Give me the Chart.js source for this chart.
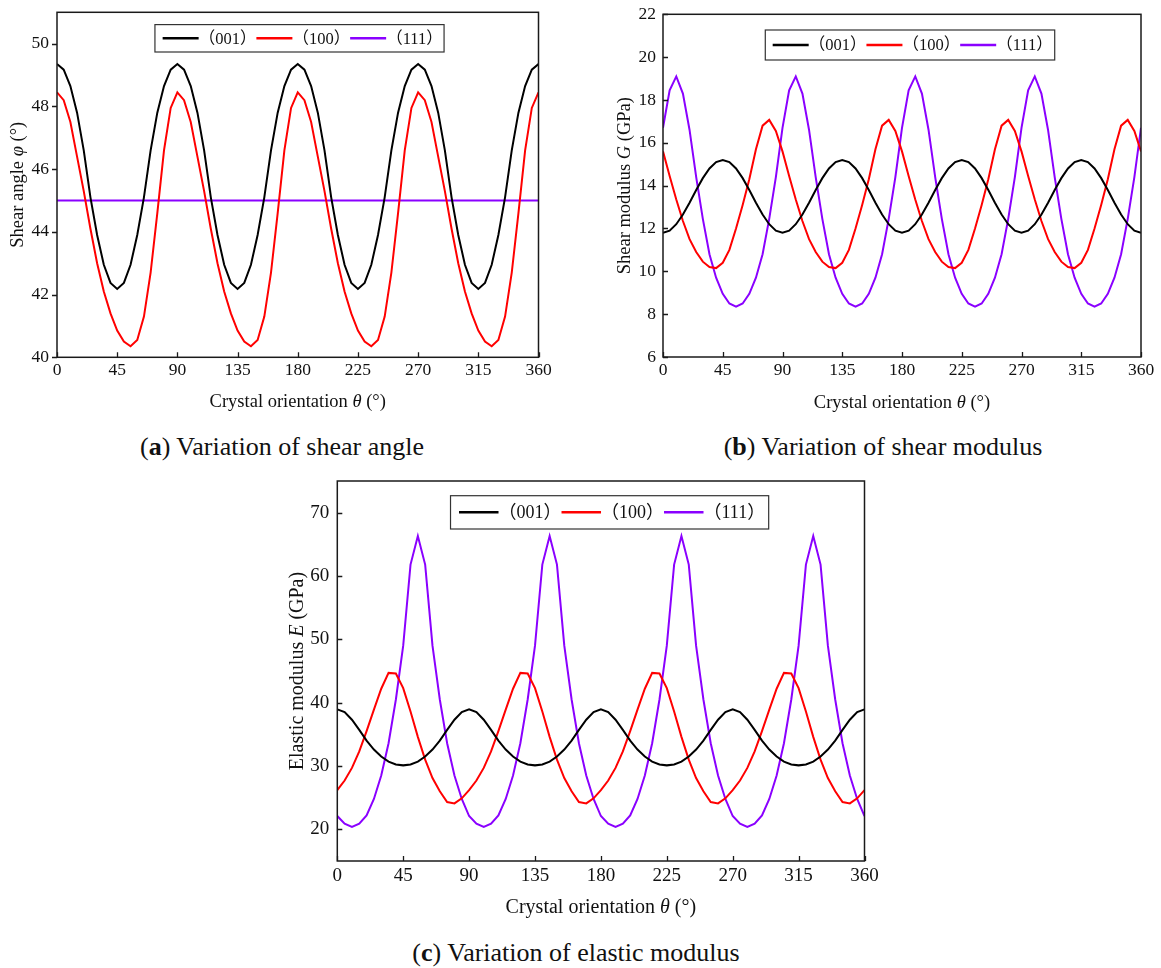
<!DOCTYPE html>
<html>
<head>
<meta charset="utf-8">
<script src="https://cdn.jsdelivr.net/npm/chart.js@4.4.1/dist/chart.umd.min.js"></script>
<style>
  html, body { margin: 0; padding: 0; background: #fff; }
  body { width: 1161px; height: 968px; position: relative; overflow: hidden; }
  canvas { position: absolute; }
  .cap { position: absolute; font-family: 'Liberation Serif', serif; font-size: 26px; color: #111;
         white-space: nowrap; transform: translate(-50%, -50%); line-height: 1; }
</style>
</head>
<body>
<canvas id="chartA" width="580" height="425" style="left:0px;top:0px"></canvas>
<canvas id="chartB" width="581" height="425" style="left:580px;top:0px"></canvas>
<canvas id="chartC" width="680" height="460" style="left:240px;top:470px"></canvas>
<div class="cap" style="left:282px;top:447px">(<b>a</b>) Variation of shear angle</div>
<div class="cap" style="left:883px;top:447px">(<b>b</b>) Variation of shear modulus</div>
<div class="cap" style="left:576px;top:953px">(<b>c</b>) Variation of elastic modulus</div>
<script>
// Crystal orientation theta (degrees), sampled every 5 degrees
const theta = [
  0, 5, 10, 15, 20, 25, 30, 35, 40, 45, 50, 55, 60, 65, 70, 75, 80, 85,
  90, 95, 100, 105, 110, 115, 120, 125, 130, 135, 140, 145, 150, 155, 160, 165, 170, 175,
  180, 185, 190, 195, 200, 205, 210, 215, 220, 225, 230, 235, 240, 245, 250, 255, 260, 265,
  270, 275, 280, 285, 290, 295, 300, 305, 310, 315, 320, 325, 330, 335, 340, 345, 350, 355,
  360
];

const seriesLabels = ['（001）', '（100）', '（111）'];
const xTicks = [0, 45, 90, 135, 180, 225, 270, 315, 360];

// (a) shear angle, degrees
const shearAngle001 = [
  49.35, 49.17, 48.65, 47.8, 46.6, 45.1, 43.9, 42.95, 42.37, 42.18, 42.37, 42.95, 43.9, 45.1, 46.6, 47.8, 48.65, 49.17,
  49.35, 49.17, 48.65, 47.8, 46.6, 45.1, 43.9, 42.95, 42.37, 42.18, 42.37, 42.95, 43.9, 45.1, 46.6, 47.8, 48.65, 49.17,
  49.35, 49.17, 48.65, 47.8, 46.6, 45.1, 43.9, 42.95, 42.37, 42.18, 42.37, 42.95, 43.9, 45.1, 46.6, 47.8, 48.65, 49.17,
  49.35, 49.17, 48.65, 47.8, 46.6, 45.1, 43.9, 42.95, 42.37, 42.18, 42.37, 42.95, 43.9, 45.1, 46.6, 47.8, 48.65, 49.17,
  49.35
];
const shearAngle100 = [
  48.45, 48.2, 47.5, 46.4, 45.3, 44.1, 43.0, 42.1, 41.4, 40.85, 40.5, 40.35, 40.55, 41.3, 42.7, 44.6, 46.6, 47.95,
  48.45, 48.2, 47.5, 46.4, 45.3, 44.1, 43.0, 42.1, 41.4, 40.85, 40.5, 40.35, 40.55, 41.3, 42.7, 44.6, 46.6, 47.95,
  48.45, 48.2, 47.5, 46.4, 45.3, 44.1, 43.0, 42.1, 41.4, 40.85, 40.5, 40.35, 40.55, 41.3, 42.7, 44.6, 46.6, 47.95,
  48.45, 48.2, 47.5, 46.4, 45.3, 44.1, 43.0, 42.1, 41.4, 40.85, 40.5, 40.35, 40.55, 41.3, 42.7, 44.6, 46.6, 47.95,
  48.45
];
const shearAngle111 = [
  45, 45, 45, 45, 45, 45, 45, 45, 45, 45, 45, 45, 45, 45, 45, 45, 45, 45,
  45, 45, 45, 45, 45, 45, 45, 45, 45, 45, 45, 45, 45, 45, 45, 45, 45, 45,
  45, 45, 45, 45, 45, 45, 45, 45, 45, 45, 45, 45, 45, 45, 45, 45, 45, 45,
  45, 45, 45, 45, 45, 45, 45, 45, 45, 45, 45, 45, 45, 45, 45, 45, 45, 45,
  45
];
const shearAngleTicks = [40, 42, 44, 46, 48, 50];

// (b) shear modulus G, GPa
const shearModulus001 = [
  11.8, 11.9, 12.2, 12.65, 13.2, 13.8, 14.35, 14.8, 15.1, 15.2, 15.1, 14.8, 14.35, 13.8, 13.2, 12.65, 12.2, 11.9,
  11.8, 11.9, 12.2, 12.65, 13.2, 13.8, 14.35, 14.8, 15.1, 15.2, 15.1, 14.8, 14.35, 13.8, 13.2, 12.65, 12.2, 11.9,
  11.8, 11.9, 12.2, 12.65, 13.2, 13.8, 14.35, 14.8, 15.1, 15.2, 15.1, 14.8, 14.35, 13.8, 13.2, 12.65, 12.2, 11.9,
  11.8, 11.9, 12.2, 12.65, 13.2, 13.8, 14.35, 14.8, 15.1, 15.2, 15.1, 14.8, 14.35, 13.8, 13.2, 12.65, 12.2, 11.9,
  11.8
];
const shearModulus100 = [
  15.6, 14.45, 13.35, 12.35, 11.5, 10.9, 10.45, 10.2, 10.15, 10.4, 11.0, 12.0, 13.1, 14.3, 15.7, 16.8, 17.07, 16.55,
  15.6, 14.45, 13.35, 12.35, 11.5, 10.9, 10.45, 10.2, 10.15, 10.4, 11.0, 12.0, 13.1, 14.3, 15.7, 16.8, 17.07, 16.55,
  15.6, 14.45, 13.35, 12.35, 11.5, 10.9, 10.45, 10.2, 10.15, 10.4, 11.0, 12.0, 13.1, 14.3, 15.7, 16.8, 17.07, 16.55,
  15.6, 14.45, 13.35, 12.35, 11.5, 10.9, 10.45, 10.2, 10.15, 10.4, 11.0, 12.0, 13.1, 14.3, 15.7, 16.8, 17.07, 16.55,
  15.6
];
const shearModulus111 = [
  16.7, 18.45, 19.1, 18.3, 16.6, 14.4, 12.45, 10.8, 9.7, 8.95, 8.5, 8.35, 8.5, 8.95, 9.7, 10.8, 12.45, 14.4,
  16.7, 18.45, 19.1, 18.3, 16.6, 14.4, 12.45, 10.8, 9.7, 8.95, 8.5, 8.35, 8.5, 8.95, 9.7, 10.8, 12.45, 14.4,
  16.7, 18.45, 19.1, 18.3, 16.6, 14.4, 12.45, 10.8, 9.7, 8.95, 8.5, 8.35, 8.5, 8.95, 9.7, 10.8, 12.45, 14.4,
  16.7, 18.45, 19.1, 18.3, 16.6, 14.4, 12.45, 10.8, 9.7, 8.95, 8.5, 8.35, 8.5, 8.95, 9.7, 10.8, 12.45, 14.4,
  16.7
];
const shearModulusTicks = [6, 8, 10, 12, 14, 16, 18, 20, 22];

// (c) elastic modulus E, GPa
const elasticModulus001 = [
  38.95, 38.5, 37.3, 35.7, 34.0, 32.6, 31.5, 30.7, 30.25, 30.1, 30.25, 30.7, 31.5, 32.6, 34.0, 35.7, 37.3, 38.5,
  38.95, 38.5, 37.3, 35.7, 34.0, 32.6, 31.5, 30.7, 30.25, 30.1, 30.25, 30.7, 31.5, 32.6, 34.0, 35.7, 37.3, 38.5,
  38.95, 38.5, 37.3, 35.7, 34.0, 32.6, 31.5, 30.7, 30.25, 30.1, 30.25, 30.7, 31.5, 32.6, 34.0, 35.7, 37.3, 38.5,
  38.95, 38.5, 37.3, 35.7, 34.0, 32.6, 31.5, 30.7, 30.25, 30.1, 30.25, 30.7, 31.5, 32.6, 34.0, 35.7, 37.3, 38.5,
  38.95
];
const elasticModulus100 = [
  26.2, 27.7, 29.7, 32.3, 35.5, 38.9, 42.2, 44.7, 44.6, 42.3, 38.6, 34.6, 31.0, 28.1, 26.0, 24.3, 24.1, 24.9,
  26.2, 27.7, 29.7, 32.3, 35.5, 38.9, 42.2, 44.7, 44.6, 42.3, 38.6, 34.6, 31.0, 28.1, 26.0, 24.3, 24.1, 24.9,
  26.2, 27.7, 29.7, 32.3, 35.5, 38.9, 42.2, 44.7, 44.6, 42.3, 38.6, 34.6, 31.0, 28.1, 26.0, 24.3, 24.1, 24.9,
  26.2, 27.7, 29.7, 32.3, 35.5, 38.9, 42.2, 44.7, 44.6, 42.3, 38.6, 34.6, 31.0, 28.1, 26.0, 24.3, 24.1, 24.9,
  26.2
];
const elasticModulus111 = [
  22.1, 20.9, 20.4, 20.9, 22.2, 24.8, 28.5, 33.6, 40.5, 49.0, 61.8, 66.3, 61.8, 49.0, 40.5, 33.6, 28.5, 24.8,
  22.1, 20.9, 20.4, 20.9, 22.2, 24.8, 28.5, 33.6, 40.5, 49.0, 61.8, 66.3, 61.8, 49.0, 40.5, 33.6, 28.5, 24.8,
  22.1, 20.9, 20.4, 20.9, 22.2, 24.8, 28.5, 33.6, 40.5, 49.0, 61.8, 66.3, 61.8, 49.0, 40.5, 33.6, 28.5, 24.8,
  22.1, 20.9, 20.4, 20.9, 22.2, 24.8, 28.5, 33.6, 40.5, 49.0, 61.8, 66.3, 61.8, 49.0, 40.5, 33.6, 28.5, 24.8,
  22.1
];
const elasticModulusTicks = [20, 30, 40, 50, 60, 70];

const seriesColors = ['#000000', '#ff0000', '#8a00ff'];
const SERIF = "'Liberation Serif', 'Noto Sans CJK SC', serif";
const INK = '#111111';

// Closed frame around the plot area plus short tick marks
const framePlugin = {
  id: 'frame',
  afterDatasetsDraw(chart, args, o) {
    const { ctx, chartArea: a, scales } = chart;
    ctx.save();
    ctx.strokeStyle = '#1a1a1a';
    ctx.lineWidth = 1.5;
    ctx.strokeRect(a.left, a.top, a.right - a.left, a.bottom - a.top);
    ctx.beginPath();
    scales.x.ticks.forEach(t => {
      const px = Math.round(scales.x.getPixelForValue(t.value)) + 0.5;
      ctx.moveTo(px, a.bottom);
      ctx.lineTo(px, a.bottom - o.tickLen * o.xDir);
    });
    scales.y.ticks.forEach(t => {
      const py = Math.round(scales.y.getPixelForValue(t.value)) + 0.5;
      ctx.moveTo(a.left, py);
      ctx.lineTo(a.left + o.tickLen * o.yDir, py);
    });
    ctx.lineWidth = 1.3;
    ctx.stroke();
    ctx.restore();
  }
};

// Axis titles with mixed upright / italic runs
function drawRuns(ctx, runs, size) {
  const fontOf = r => (r.i ? 'italic ' : '') + size + 'px ' + SERIF;
  let total = 0;
  runs.forEach(r => { ctx.font = fontOf(r); r.w = ctx.measureText(r.t).width; total += r.w; });
  let x = -total / 2;
  runs.forEach(r => { ctx.font = fontOf(r); ctx.fillText(r.t, x, 0); x += r.w; });
}
const axisTitlePlugin = {
  id: 'axisTitles',
  afterDraw(chart, args, o) {
    const { ctx, chartArea: a } = chart;
    ctx.save();
    ctx.fillStyle = INK;
    ctx.textBaseline = 'middle';
    ctx.textAlign = 'left';
    ctx.save();
    ctx.translate((a.left + a.right) / 2, a.bottom + o.xOffset);
    drawRuns(ctx, o.xRuns, o.size);
    ctx.restore();
    ctx.save();
    ctx.translate(a.left - o.yOffset, (a.top + a.bottom) / 2);
    ctx.rotate(-Math.PI / 2);
    drawRuns(ctx, o.yRuns, o.size);
    ctx.restore();
    ctx.restore();
  }
};

// Boxed legend placed inside the plot area
const boxLegendPlugin = {
  id: 'boxLegend',
  afterDraw(chart, args, o) {
    const { ctx, chartArea: a } = chart;
    ctx.save();
    ctx.font = o.fontSize + 'px ' + SERIF;
    const items = chart.data.datasets.map(d => ({
      label: d.label, color: d.borderColor, w: ctx.measureText(d.label).width
    }));
    const total = o.padL + items.reduce((s, it) => s + o.lineLen + it.w, 0) + o.padR;
    const left = (a.left + a.right) / 2 - total / 2 + o.dx;
    const top = a.top + o.top;
    ctx.fillStyle = '#fff';
    ctx.fillRect(left, top, total, o.height);
    ctx.strokeStyle = '#333';
    ctx.lineWidth = 1.2;
    ctx.strokeRect(left, top, total, o.height);
    const cy = top + o.height / 2;
    let x = left + o.padL;
    items.forEach(it => {
      ctx.strokeStyle = it.color;
      ctx.lineWidth = 2.5;
      ctx.beginPath();
      ctx.moveTo(x, cy);
      ctx.lineTo(x + o.lineLen, cy);
      ctx.stroke();
      x += o.lineLen;
      ctx.fillStyle = INK;
      ctx.textBaseline = 'middle';
      ctx.textAlign = 'left';
      ctx.fillText(it.label, x, cy + 1);
      x += it.w;
    });
    ctx.restore();
  }
};

function makeChart(id, c) {
  const datasets = c.values.map((vals, k) => ({
    label: seriesLabels[k],
    data: theta.map((t, i) => ({ x: t, y: vals[i] })),
    borderColor: seriesColors[k],
    backgroundColor: seriesColors[k],
    borderWidth: 2,
    pointRadius: 0,
    tension: 0,
    fill: false
  }));
  return new Chart(document.getElementById(id), {
    type: 'line',
    data: { datasets },
    options: {
      responsive: false,
      animation: false,
      devicePixelRatio: 1,
      events: [],
      layout: { padding: c.padding },
      plugins: {
        legend: { display: false },
        tooltip: { enabled: false },
        frame: { tickLen: 5, xDir: 1, yDir: c.yTickDir },
        axisTitles: { size: c.titleSize, xOffset: c.xTitleOffset, yOffset: c.yTitleOffset, xRuns: c.xRuns, yRuns: c.yRuns },
        boxLegend: c.legend
      },
      scales: {
        x: {
          type: 'linear', min: 0, max: 360,
          afterBuildTicks: s => { s.ticks = xTicks.map(v => ({ value: v })); },
          afterFit: s => {
            s.height = c.xAxisHeight;
            s.paddingLeft = 0; s.paddingRight = 0; s.paddingTop = 0; s.paddingBottom = 0;
          },
          grid: { display: false, drawTicks: false },
          border: { display: false },
          ticks: { autoSkip: false, maxRotation: 0, padding: c.xTickPad, color: INK,
                   font: { family: SERIF, size: c.tickSize } }
        },
        y: {
          type: 'linear', min: c.yMin, max: c.yMax,
          afterBuildTicks: s => { s.ticks = c.yTicks.map(v => ({ value: v })); },
          afterFit: s => {
            s.width = c.yAxisWidth;
            s.paddingLeft = 0; s.paddingRight = 0; s.paddingTop = 0; s.paddingBottom = 0;
          },
          grid: { display: false, drawTicks: false },
          border: { display: false },
          ticks: { padding: c.yTickPad, color: INK, font: { family: SERIF, size: c.tickSize } }
        }
      }
    },
    plugins: [framePlugin, axisTitlePlugin, boxLegendPlugin]
  });
}

const thetaRuns = [{ t: 'Crystal orientation ' }, { t: 'θ', i: true }, { t: ' (°)' }];

makeChart('chartA', {
  values: [shearAngle001, shearAngle100, shearAngle111],
  yMin: 40, yMax: 51, yTicks: shearAngleTicks,
  padding: { left: 0, top: 12.3, right: 41.5, bottom: 0 },
  yAxisWidth: 57, xAxisHeight: 67.7,
  tickSize: 17.5, titleSize: 18.5, xTickPad: 3, yTickPad: 8, yTickDir: -1,
  xTitleOffset: 45, yTitleOffset: 39,
  xRuns: thetaRuns,
  yRuns: [{ t: 'Shear angle ' }, { t: 'φ', i: true }, { t: ' (°)' }],
  legend: { fontSize: 16.5, lineLen: 36, padL: 7.7, padR: 1.4, dx: 1.75, top: 12.3, height: 27.4 }
});

makeChart('chartB', {
  values: [shearModulus001, shearModulus100, shearModulus111],
  yMin: 6, yMax: 22, yTicks: shearModulusTicks,
  padding: { left: 0, top: 14.3, right: 20, bottom: 0 },
  yAxisWidth: 83, xAxisHeight: 68,
  tickSize: 17.5, titleSize: 18.5, xTickPad: 3, yTickPad: 7, yTickDir: 1,
  xTitleOffset: 46, yTitleOffset: 38,
  xRuns: thetaRuns,
  yRuns: [{ t: 'Shear modulus ' }, { t: 'G', i: true }, { t: ' (GPa)' }],
  legend: { fontSize: 16.5, lineLen: 36, padL: 7.4, padR: 2, dx: 8, top: 15.7, height: 30 }
});

makeChart('chartC', {
  values: [elasticModulus001, elasticModulus100, elasticModulus111],
  yMin: 15, yMax: 75, yTicks: elasticModulusTicks,
  padding: { left: 0, top: 11, right: 55.5, bottom: 0 },
  yAxisWidth: 97.3, xAxisHeight: 69,
  tickSize: 19, titleSize: 20, xTickPad: 4, yTickPad: 8, yTickDir: 1,
  xTitleOffset: 47, yTitleOffset: 40,
  xRuns: thetaRuns,
  yRuns: [{ t: 'Elastic modulus ' }, { t: 'E', i: true }, { t: ' (GPa)' }],
  legend: { fontSize: 18, lineLen: 39.5, padL: 8.5, padR: 3.5, dx: 8.7, top: 14.7, height: 33.3 }
});
</script>
</body>
</html>
